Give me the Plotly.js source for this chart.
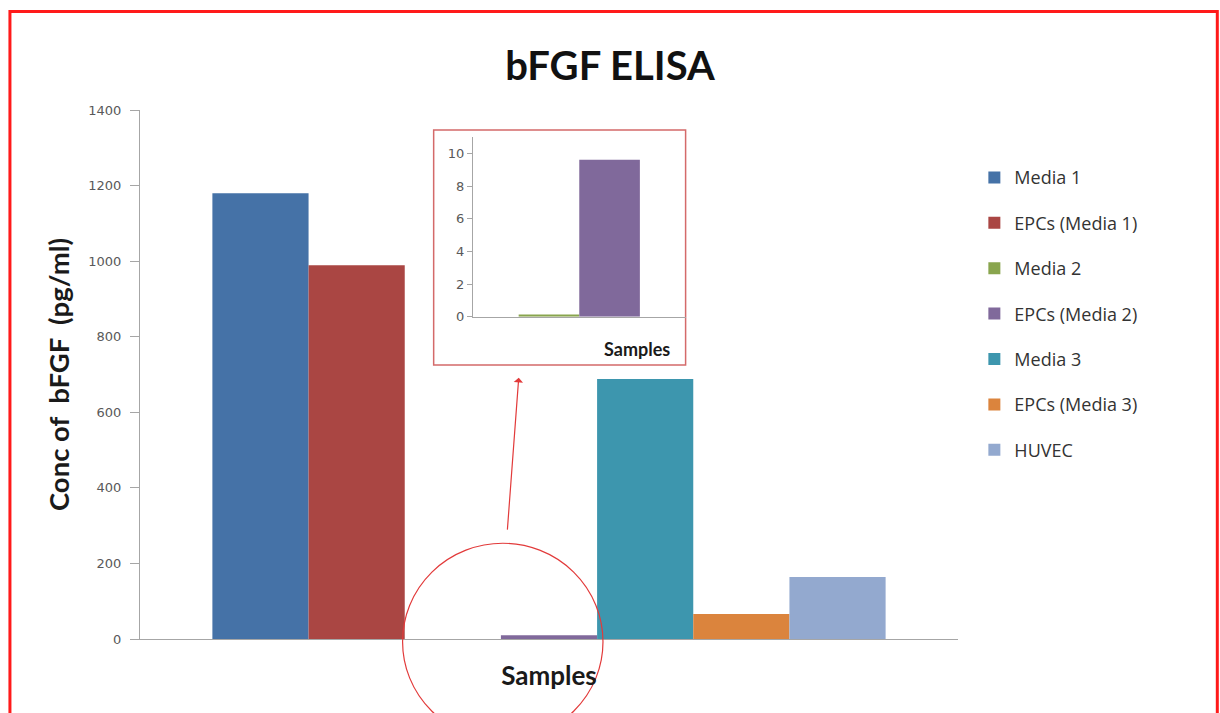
<!DOCTYPE html>
<html>
<head>
<meta charset="utf-8">
<script src="https://cdn.plot.ly/plotly-3.0.1.min.js"></script>
<style>
  html, body { margin: 0; padding: 0; background: #fff; }
  #chart { width: 1220px; height: 713px; }
</style>
</head>
<body>
<div id="chart"></div>
<script>
// ---- data ----
const categories = ["Samples"];
const seriesNames = ["Media 1", "EPCs (Media 1)", "Media 2", "EPCs (Media 2)", "Media 3", "EPCs (Media 3)", "HUVEC"];
const seriesValues = [1180, 989, 0.15, 9.6, 688, 66, 164];
const seriesColors = ["#4572A7", "#AA4643", "#89A54E", "#80699B", "#3D96AE", "#DB843D", "#93A9CF"];
const insetNames = ["Media 2", "EPCs (Media 2)"];
const insetValues = [0.15, 9.6];
const insetColors = ["#89A54E", "#80699B"];
const yTicks = [0, 200, 400, 600, 800, 1000, 1200, 1400];
const insetTicks = [0, 2, 4, 6, 8, 10];

// ---- traces ----
const traces = seriesNames.map((name, i) => ({
  type: "bar",
  name: name,
  x: categories,
  y: [seriesValues[i]],
  marker: { color: seriesColors[i], line: { width: 0 } },
  legendgroup: "g" + i,
  hoverinfo: "name+y"
}));

const insetOffsets = [-0.285, 0.0];
insetNames.forEach((name, i) => {
  traces.push({
    type: "bar",
    name: name,
    x: categories,
    y: [insetValues[i]],
    xaxis: "x2",
    yaxis: "y2",
    width: 0.285,
    offset: insetOffsets[i],
    marker: { color: insetColors[i], line: { width: 0 } },
    showlegend: false,
    hoverinfo: "name+y"
  });
});

const tickFont = { family: "DejaVu Sans, sans-serif", size: 13, color: "#595959" };
const boldFont = "Lato, 'Open Sans', sans-serif";

const layout = {
  width: 1220,
  height: 713,
  paper_bgcolor: "#ffffff",
  plot_bgcolor: "rgba(0,0,0,0)",
  margin: { l: 140, r: 262, t: 110, b: 74 },
  barmode: "group",
  bargap: 0.177,
  bargroupgap: 0,
  title: {
    text: "<b>bFGF ELISA</b>",
    font: { family: boldFont, size: 40, color: "#111" },
    x: 0.5, xanchor: "center", y: 0.908, yanchor: "middle"
  },
  xaxis: {
    domain: [0, 1],
    showticklabels: false,
    showline: true, linecolor: "#a6a6a6", linewidth: 1,
    ticks: "", showgrid: false, zeroline: false,
    title: { text: "<b>Samples</b>", font: { family: boldFont, size: 26, color: "#1a1a1a" }, standoff: 27 }
  },
  yaxis: {
    range: [0, 1400],
    tickvals: yTicks,
    ticks: "outside", ticklen: 9, tickcolor: "#a6a6a6",
    ticklabelstandoff: 6,
    showline: true, linecolor: "#a6a6a6", linewidth: 1,
    showgrid: false, zeroline: false,
    tickfont: tickFont,
    title: { text: "<b>Conc of  bFGF  (pg/ml)</b>", font: { family: boldFont, size: 27.5, color: "#1a1a1a" }, standoff: 10 }
  },
  xaxis2: {
    domain: [0.407, 0.667],
    anchor: "y2",
    range: [-0.5, 0.5],
    showticklabels: false,
    showline: true, linecolor: "#a6a6a6", linewidth: 1,
    ticks: "", showgrid: false, zeroline: false
  },
  yaxis2: {
    domain: [0.609, 0.949],
    anchor: "x2",
    range: [0, 11],
    tickvals: insetTicks,
    ticks: "outside", ticklen: 5, tickcolor: "#a6a6a6",
    showline: true, linecolor: "#a6a6a6", linewidth: 1,
    showgrid: false, zeroline: false,
    tickfont: { family: "DejaVu Sans, sans-serif", size: 13, color: "#595959" }
  },
  legend: {
    x: 1.02, xanchor: "left", y: 0.907, yanchor: "top",
    font: { family: "'Open Sans', sans-serif", size: 18, color: "#333" },
    tracegroupgap: 19,
    itemwidth: 30,
    bgcolor: "rgba(0,0,0,0)"
  },
  shapes: [
    // outer frame
    { type: "rect", xref: "paper", yref: "paper", x0: -0.159, x1: 1.317, y0: -0.16, y1: 1.186,
      line: { color: "#ff1a1a", width: 3 }, fillcolor: "rgba(0,0,0,0)", layer: "above" },
    // inset box
    { type: "rect", xref: "paper", yref: "paper", x0: 0.359, x1: 0.667, y0: 0.518, y1: 0.962,
      line: { color: "#d46a6a", width: 1.5 }, fillcolor: "#ffffff", layer: "below" },
    // circle
    { type: "circle", xref: "paper", yref: "paper", x0: 0.321, x1: 0.566, y0: -0.191, y1: 0.181,
      line: { color: "#e23a3a", width: 1.2 }, fillcolor: "rgba(0,0,0,0)", layer: "above" }
  ],
  annotations: [
    { xref: "paper", yref: "paper", x: 0.607, y: 0.548, text: "<b>Samples</b>", showarrow: false,
      font: { family: boldFont, size: 18, color: "#1a1a1a" }, xanchor: "center", yanchor: "middle" },
    { xref: "paper", yref: "paper", x: 0.463, y: 0.494, ax: 0.449, ay: 0.204, axref: "paper", ayref: "paper",
      text: "", showarrow: true, arrowhead: 1, arrowsize: 1.3, arrowwidth: 1.2, arrowcolor: "#e23a3a" }
  ]
};

Plotly.newPlot("chart", traces, layout, { displayModeBar: false, staticPlot: true });
</script>
</body>
</html>
